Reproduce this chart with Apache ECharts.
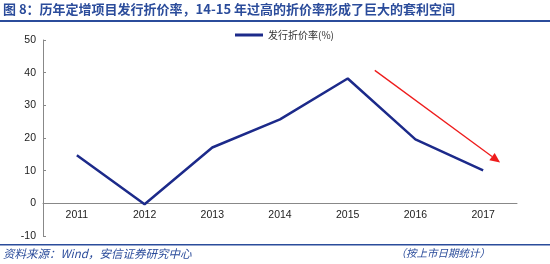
<!DOCTYPE html>
<html><head><meta charset="utf-8">
<script src="https://cdn.jsdelivr.net/npm/echarts@6/dist/echarts.min.js"></script>
<style>html,body{margin:0;padding:0;background:#fff}#c{width:550px;height:264px}</style>
</head><body><div id="c"></div>
<script>
var categories = ['2011','2012','2013','2014','2015','2016','2017'];
var discountRate = [14.7, -0.3, 17.1, 25.7, 38.2, 19.6, 10.1];
var seriesName = '发行折价率(%)';
var yTicks = {min: -10, max: 50, interval: 10};
var arrowStart = [4.4, 40.7];
var arrowEnd = [6.25, 12.5];
var titleText = '图 8：历年定增项目发行折价率，14-15 年过高的折价率形成了巨大的套利空间';
var sourceText = '资料来源：Wind，安信证券研究中心';
var noteText = '（按上市日期统计）';

var chart = echarts.init(document.getElementById('c'));
var blue = '#2b4c9b';
var font = '"Liberation Sans", Arial, "Noto Sans CJK SC", sans-serif';
var gridTop = 40, gridBottom = 28, H = 264;
var zeroOffset = -(H - gridTop - gridBottom) * (0 - yTicks.min) / (yTicks.max - yTicks.min);
chart.setOption({
  animation: false,
  textStyle: {fontFamily: font},
  grid: {left: 43, right: 33, top: gridTop, bottom: gridBottom},
  legend: {
    top: 25, left: 230, itemWidth: 28, itemHeight: 3, itemGap: 3,
    icon: 'rect',
    textStyle: {fontSize: 10, color: '#333', fontFamily: '"Noto Sans CJK SC", sans-serif'},
    data: [seriesName]
  },
  xAxis: [{
    type: 'category', data: categories, boundaryGap: true,
    axisLine: {onZero: true, lineStyle: {color: '#888', width: 1}},
    axisTick: {inside: true, length: 3, lineStyle: {color: '#888'}},
    axisLabel: {show: false}
  }, {
    type: 'category', data: categories, boundaryGap: true, position: 'bottom',
    offset: zeroOffset,
    axisLine: {show: false}, axisTick: {show: false},
    axisLabel: {color: '#222', fontSize: 10.5, margin: 7}
  }],
  yAxis: {
    type: 'value', min: yTicks.min, max: yTicks.max, interval: yTicks.interval,
    splitLine: {show: false},
    axisLine: {show: true, onZero: false, lineStyle: {color: '#888'}},
    axisTick: {show: true, inside: true, length: 3, lineStyle: {color: '#888'}},
    axisLabel: {color: '#222', fontSize: 10.5, margin: 7}
  },
  series: [{
    name: seriesName, type: 'line', data: discountRate, xAxisIndex: 0,
    symbol: 'none', lineStyle: {color: '#1c2a8a', width: 2.5},
    itemStyle: {color: '#1c2a8a'}
  }]
});

function toPx(pt) {
  var i = Math.floor(pt[0]), f = pt[0] - i;
  var a = chart.convertToPixel({xAxisIndex: 0, yAxisIndex: 0}, [i, pt[1]]);
  var b = chart.convertToPixel({xAxisIndex: 0, yAxisIndex: 0}, [i + 1, pt[1]]);
  return [a[0] + f * (b[0] - a[0]), a[1]];
}
var p1 = toPx(arrowStart);
var p2 = toPx(arrowEnd);
var ang = Math.atan2(p2[1]-p1[1], p2[0]-p1[0]);
var hl = 10, hw = 4.5;
var bx = p2[0] - hl*Math.cos(ang), by = p2[1] - hl*Math.sin(ang);
var nx = -Math.sin(ang), ny = Math.cos(ang);

chart.setOption({
  graphic: [
    {type: 'text', left: 3, top: 3, style: {text: titleText, fill: blue, font: 'bold 13px "Noto Sans CJK SC", sans-serif'}},
    {type: 'rect', shape: {x: 0, y: 20, width: 550, height: 2}, style: {fill: blue}},
    {type: 'rect', shape: {x: 0, y: 244, width: 550, height: 1.5}, style: {fill: blue}},
    {type: 'text', left: 3, top: 248, style: {text: sourceText, fill: blue, font: 'italic 11.5px "Noto Sans CJK SC", sans-serif'}},
    {type: 'text', right: 60, top: 248, style: {text: noteText, fill: blue, font: 'italic 10.5px "Noto Sans CJK SC", sans-serif'}},
    {type: 'line', shape: {x1: p1[0], y1: p1[1], x2: bx, y2: by}, style: {stroke: '#ee1c1c', lineWidth: 1.3}},
    {type: 'polygon', shape: {points: [[p2[0], p2[1]], [bx + nx*hw, by + ny*hw], [bx - nx*hw, by - ny*hw]]}, style: {fill: '#ee1c1c'}}
  ]
});
</script></body></html>
